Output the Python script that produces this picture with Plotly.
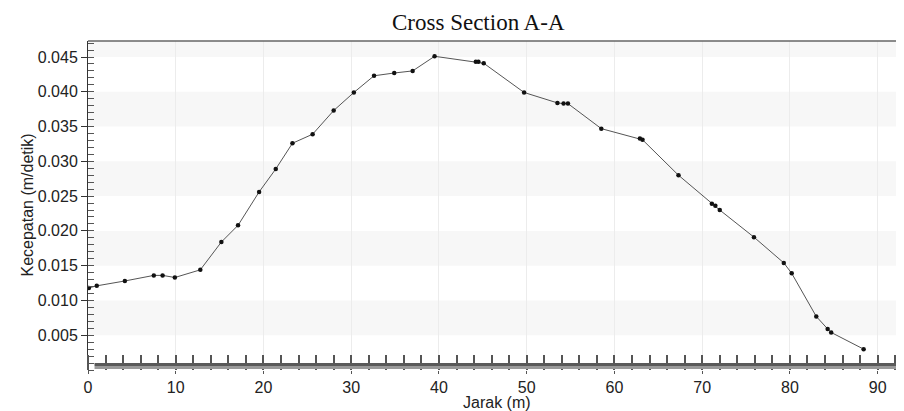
import plotly.graph_objects as go

jarak = [0.1, 1.0, 4.2, 7.5, 8.5, 9.9, 12.8, 15.2, 17.1, 19.5, 21.4, 23.3, 25.6, 28.0,
         30.3, 32.6, 34.9, 37.0, 39.5, 44.2, 44.5, 45.1, 49.7, 53.5, 54.2, 54.7, 58.5,
         62.9, 63.2, 67.3, 71.1, 71.5, 72.0, 75.9, 79.3, 80.2, 83.0, 84.3, 84.7, 88.4]
kecepatan = [0.0118, 0.0121, 0.0128, 0.0136, 0.0136, 0.0133, 0.0144, 0.0184, 0.0208,
             0.0256, 0.0289, 0.0326, 0.0339, 0.0373, 0.0399, 0.0423, 0.0427, 0.0430,
             0.0451, 0.0443, 0.0443, 0.0441, 0.0399, 0.0384, 0.0383, 0.0383, 0.0347,
             0.0333, 0.0331, 0.0280, 0.0239, 0.0236, 0.0230, 0.0191, 0.0154, 0.0139,
             0.0077, 0.0059, 0.0054, 0.0030]

y_ticks = [0.005, 0.010, 0.015, 0.020, 0.025, 0.030, 0.035, 0.040, 0.045]
y_labels = ["0.005", "0.010", "0.015", "0.020", "0.025", "0.030", "0.035", "0.040", "0.045"]
x_ticks = [0, 10, 20, 30, 40, 50, 60, 70, 80, 90]

Y_TOP = 0.0473
X_MAX = 93

fig = go.Figure()
fig.add_trace(go.Scatter(
    x=jarak, y=kecepatan, mode="lines+markers",
    line=dict(color="#555555", width=1),
    marker=dict(color="#111111", size=4.5),
    showlegend=False, hoverinfo="x+y",
))

shapes = []
for y0 in y_ticks[0::2]:
    shapes.append(dict(type="rect", xref="paper", yref="y", x0=0, x1=1,
                       y0=y0, y1=min(y0 + 0.005, Y_TOP),
                       fillcolor="#f7f7f7", line=dict(width=0), layer="below"))
# shaded axis bar along the bottom
shapes.append(dict(type="rect", xref="paper", yref="paper", ysizemode="pixel", yanchor=0,
                   x0=0.008, x1=1, y0=4, y1=7, fillcolor="#5a5a5a", line=dict(width=0), layer="above"))
shapes.append(dict(type="rect", xref="paper", yref="paper", ysizemode="pixel", yanchor=0,
                   x0=0.008, x1=1, y0=1, y1=4, fillcolor="#9a9a9a", line=dict(width=0), layer="above"))
# top border of the plot area
shapes.append(dict(type="line", xref="paper", yref="paper", x0=0, x1=1, y0=1, y1=1,
                   line=dict(color="#666666", width=1.5), layer="above"))

# page body has an 8px margin, so the figure is offset by 8px
fig.update_layout(
    width=896, height=403,
    margin=dict(l=80, r=0, t=33, b=41),
    paper_bgcolor="white", plot_bgcolor="white",
    shapes=shapes,
    font=dict(family="Liberation Sans", size=16, color="#222"),
    annotations=[
        dict(text="Cross Section A-A", xref="paper", yref="paper", x=0.478, y=1,
             yshift=19, xanchor="center", yanchor="middle", showarrow=False,
             font=dict(family="Liberation Serif", size=23, color="#111")),
        dict(text="Jarak (m)", xref="paper", yref="paper", x=0.501, y=0,
             yshift=-32, xanchor="center", yanchor="middle", showarrow=False,
             font=dict(size=16, color="#222")),
        dict(text="Kecepatan (m/detik)", xref="paper", yref="paper", x=0, y=0.5,
             xshift=-61, xanchor="center", yanchor="middle", textangle=-90, showarrow=False,
             font=dict(size=16, color="#222")),
    ],
)

fig.update_xaxes(
    range=[0, X_MAX], tickvals=x_ticks, automargin=False,
    showgrid=True, gridcolor="#ececec", gridwidth=1,
    showline=False,
    ticks="outside", ticklen=3, tickcolor="#555",
    minor=dict(dtick=2, tick0=0, ticks="inside", ticklen=15, tickcolor="#555",
               tickwidth=1.5, showgrid=False),
    zeroline=False,
    tickfont=dict(size=16),
)
fig.update_yaxes(
    range=[0, Y_TOP], tickvals=y_ticks, ticktext=y_labels, automargin=False,
    showgrid=False,
    showline=True, linecolor="#333", linewidth=1,
    ticks="outside", ticklen=6, tickcolor="#333",
    minor=dict(dtick=0.001, tick0=0, ticks="inside", ticklen=6, tickcolor="#555",
               tickwidth=1.2, showgrid=False),
    zeroline=False,
    tickfont=dict(size=16),
)

fig.write_html("out.html")
